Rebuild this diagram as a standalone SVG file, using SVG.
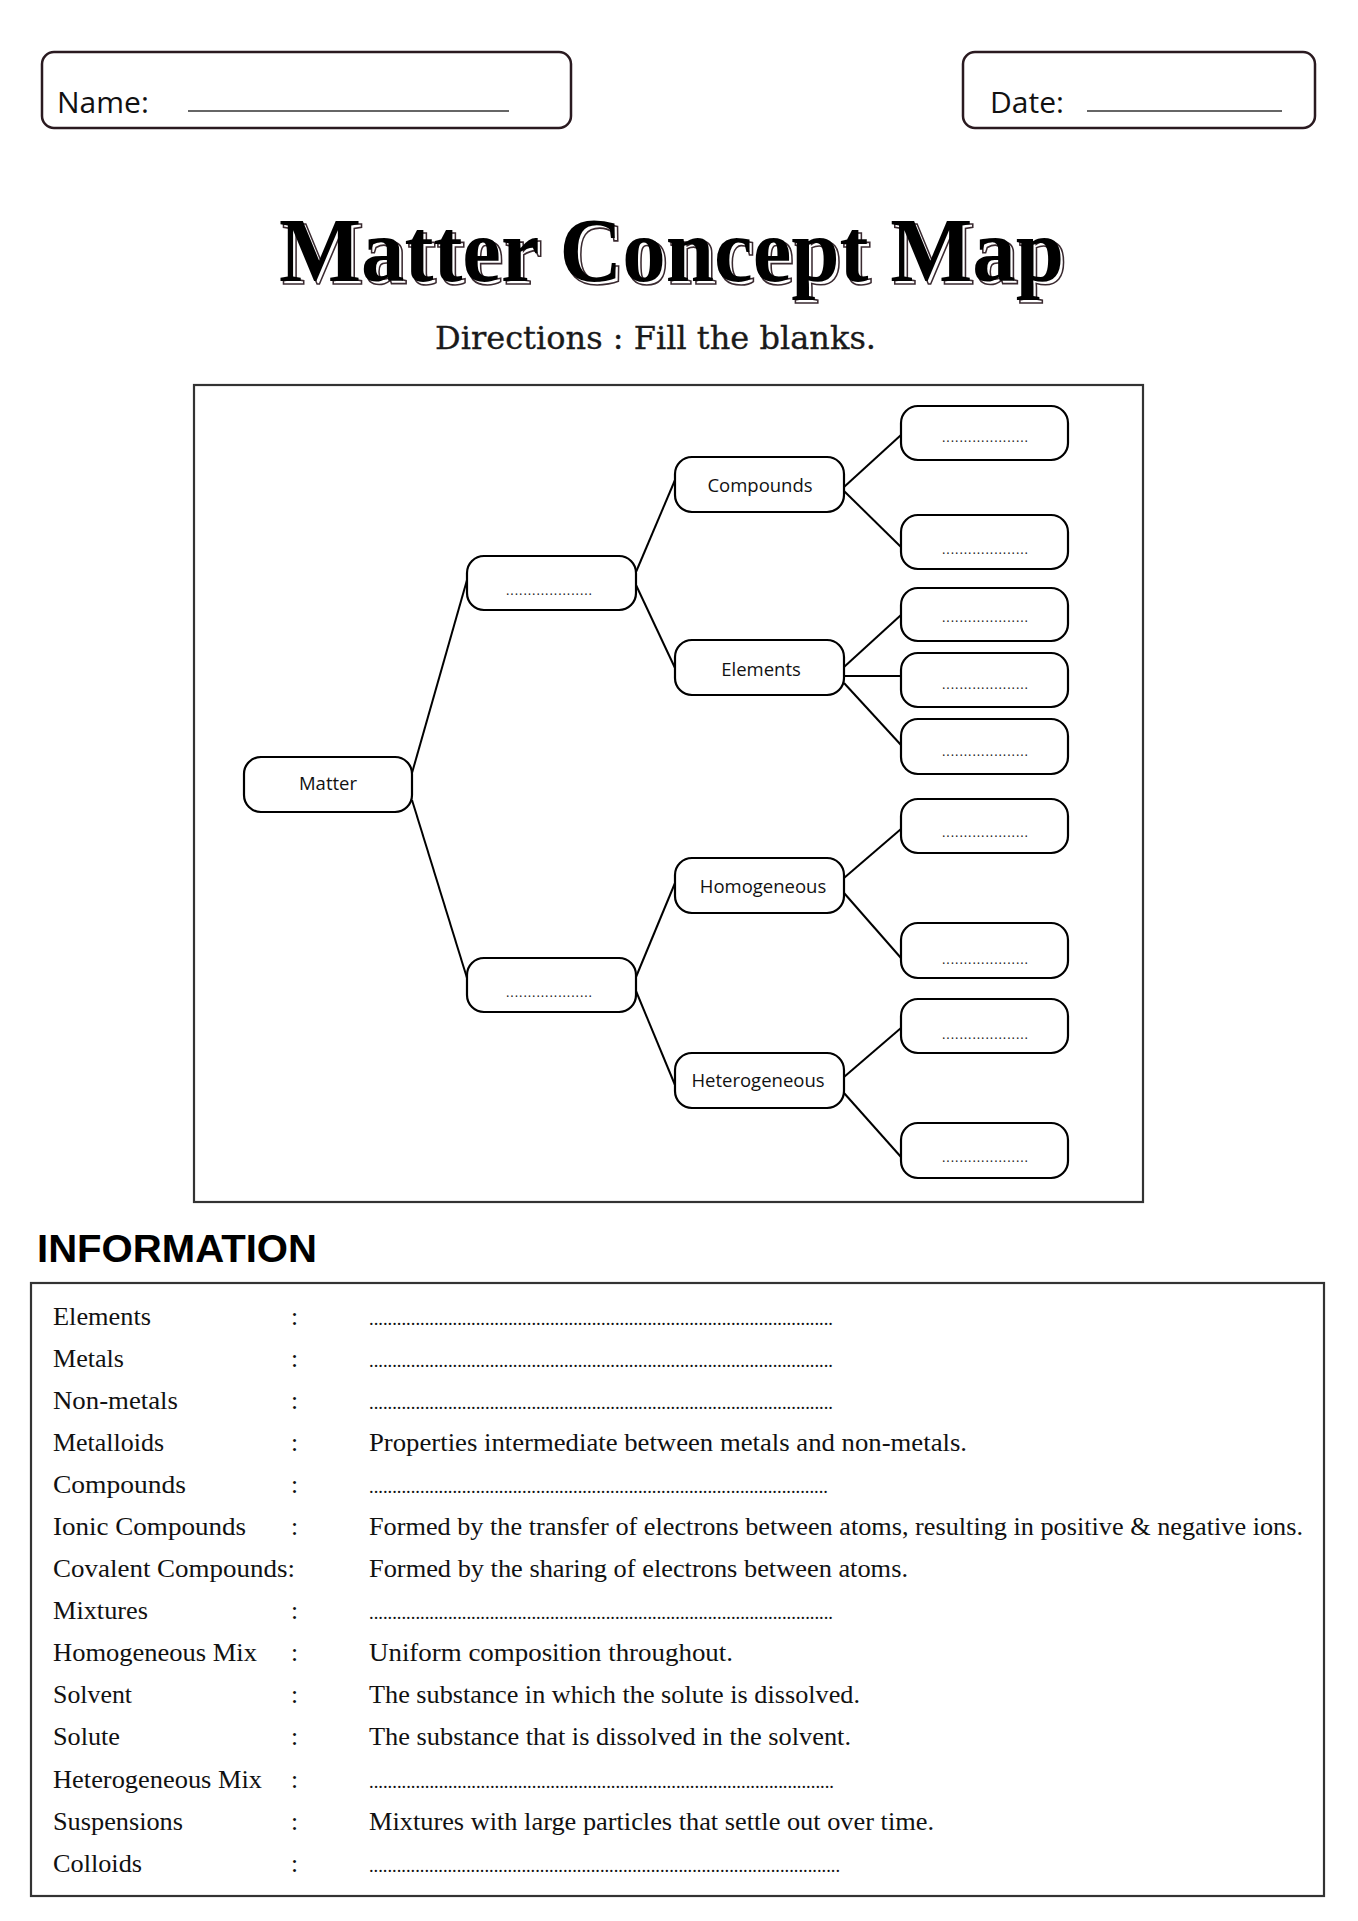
<svg xmlns="http://www.w3.org/2000/svg" width="1358" height="1921" viewBox="0 0 1358 1921">
<style>
.hdr{fill:#fff;stroke:#2a1a20;stroke-width:2.5}
.hdrt{font-family:"Open Sans",sans-serif;font-size:30px;fill:#111}
.uline{stroke:#333;stroke-width:1.6}
.node rect{fill:#fff;stroke:#000;stroke-width:2.2}
.lbl{font-family:"Open Sans",sans-serif;font-size:18.5px;fill:#111;text-anchor:middle}
.dots{font-family:"Open Sans",sans-serif;font-size:13px;fill:#222;text-anchor:middle}
.conn line{stroke:#000;stroke-width:2}
.info{font-family:"Liberation Serif","Times New Roman",serif;font-size:25.5px;fill:#111}
.idots{font-family:"Liberation Serif",serif;font-size:19px;fill:#111}
</style>

<g id="name-box">
<rect class="hdr" x="42" y="52" width="529" height="76" rx="12"/>
<text class="hdrt" x="57" y="113">Name:</text>
<line class="uline" x1="188" y1="111" x2="509" y2="111"/>
</g>
<g id="date-box">
<rect class="hdr" x="963" y="52" width="352" height="76" rx="12"/>
<text class="hdrt" x="990" y="113">Date:</text>
<line class="uline" x1="1087" y1="111" x2="1282" y2="111" stroke="#2d3d45"/>
</g>

<g id="title">
<text x="282" y="284" font-family="Liberation Serif,serif" font-weight="bold" font-size="91" textLength="785" lengthAdjust="spacingAndGlyphs" fill="#fff" stroke="#3a2a30" stroke-width="1.6">Matter Concept Map</text>
<text x="279" y="281" font-family="Liberation Serif,serif" font-weight="bold" font-size="91" textLength="785" lengthAdjust="spacingAndGlyphs" fill="#000">Matter Concept Map</text>
<text x="435" y="349" font-family="DejaVu Serif,serif" font-size="31" textLength="441" lengthAdjust="spacingAndGlyphs" fill="#1a1a1a" stroke="#1a1a1a" stroke-width="0.3">Directions : Fill the blanks.</text>
</g>

<rect id="frame" x="194" y="385" width="949" height="817" fill="none" stroke="#333" stroke-width="2.2"/>

<g id="connectors" class="conn">
<line x1="412" y1="773" x2="467" y2="580"/>
<line x1="412" y1="800" x2="467" y2="978"/>
<line x1="636" y1="572" x2="675" y2="480"/>
<line x1="636" y1="585" x2="675" y2="668"/>
<line x1="636" y1="977" x2="675" y2="883"/>
<line x1="636" y1="991" x2="675" y2="1085"/>
<line x1="844" y1="487" x2="901" y2="435"/>
<line x1="844" y1="491" x2="901" y2="547"/>
<line x1="844" y1="667" x2="901" y2="615"/>
<line x1="844" y1="676" x2="901" y2="676"/>
<line x1="844" y1="683" x2="901" y2="745"/>
<line x1="844" y1="878" x2="901" y2="829"/>
<line x1="844" y1="893" x2="901" y2="958"/>
<line x1="844" y1="1077" x2="901" y2="1028"/>
<line x1="844" y1="1093" x2="901" y2="1157"/>
</g>

<g id="n-matter" class="node"><rect x="244" y="757" width="168" height="55" rx="17"/><text class="lbl" x="328" y="790">Matter</text></g>
<g id="n-blank1" class="node"><rect x="467" y="556" width="169" height="54" rx="17"/><text class="dots" x="549" y="595" textLength="86">....................</text></g>
<g id="n-blank2" class="node"><rect x="467" y="958" width="169" height="54" rx="17"/><text class="dots" x="549" y="997" textLength="86">....................</text></g>
<g id="n-compounds" class="node"><rect x="675" y="457" width="169" height="55" rx="17"/><text class="lbl" x="760" y="492">Compounds</text></g>
<g id="n-elements" class="node"><rect x="675" y="640" width="169" height="55" rx="17"/><text class="lbl" x="761" y="676">Elements</text></g>
<g id="n-homogeneous" class="node"><rect x="675" y="858" width="169" height="55" rx="17"/><text class="lbl" x="763" y="893">Homogeneous</text></g>
<g id="n-heterogeneous" class="node"><rect x="675" y="1053" width="169" height="55" rx="17"/><text class="lbl" x="758" y="1087">Heterogeneous</text></g>

<g id="n-r1" class="node"><rect x="901" y="406" width="167" height="54" rx="17"/><text class="dots" x="985" y="442" textLength="86">....................</text></g>
<g id="n-r2" class="node"><rect x="901" y="515" width="167" height="54" rx="17"/><text class="dots" x="985" y="554" textLength="86">....................</text></g>
<g id="n-r3" class="node"><rect x="901" y="588" width="167" height="53" rx="17"/><text class="dots" x="985" y="622" textLength="86">....................</text></g>
<g id="n-r4" class="node"><rect x="901" y="653" width="167" height="54" rx="17"/><text class="dots" x="985" y="689" textLength="86">....................</text></g>
<g id="n-r5" class="node"><rect x="901" y="719" width="167" height="55" rx="17"/><text class="dots" x="985" y="756" textLength="86">....................</text></g>
<g id="n-r6" class="node"><rect x="901" y="799" width="167" height="54" rx="17"/><text class="dots" x="985" y="837" textLength="86">....................</text></g>
<g id="n-r7" class="node"><rect x="901" y="923" width="167" height="55" rx="17"/><text class="dots" x="985" y="964" textLength="86">....................</text></g>
<g id="n-r8" class="node"><rect x="901" y="999" width="167" height="54" rx="17"/><text class="dots" x="985" y="1039" textLength="86">....................</text></g>
<g id="n-r9" class="node"><rect x="901" y="1123" width="167" height="55" rx="17"/><text class="dots" x="985" y="1162" textLength="86">....................</text></g>

<g id="information">
<text x="37" y="1262" font-family="Liberation Sans,Arial,sans-serif" font-weight="bold" font-size="39" textLength="280" lengthAdjust="spacingAndGlyphs" fill="#000">INFORMATION</text>
<rect x="31" y="1283" width="1293" height="613" fill="none" stroke="#333" stroke-width="2.2"/>
<g class="info">
<text x="53" y="1325" textLength="98" lengthAdjust="spacingAndGlyphs">Elements</text>
<text x="53" y="1367" textLength="71" lengthAdjust="spacingAndGlyphs">Metals</text>
<text x="53" y="1409" textLength="125" lengthAdjust="spacingAndGlyphs">Non-metals</text>
<text x="53" y="1451" textLength="111" lengthAdjust="spacingAndGlyphs">Metalloids</text>
<text x="53" y="1493" textLength="133" lengthAdjust="spacingAndGlyphs">Compounds</text>
<text x="53" y="1535" textLength="193" lengthAdjust="spacingAndGlyphs">Ionic Compounds</text>
<text x="53" y="1577" textLength="242" lengthAdjust="spacingAndGlyphs">Covalent Compounds:</text>
<text x="53" y="1619" textLength="95" lengthAdjust="spacingAndGlyphs">Mixtures</text>
<text x="53" y="1661" textLength="204" lengthAdjust="spacingAndGlyphs">Homogeneous Mix</text>
<text x="53" y="1703" textLength="79" lengthAdjust="spacingAndGlyphs">Solvent</text>
<text x="53" y="1745" textLength="67" lengthAdjust="spacingAndGlyphs">Solute</text>
<text x="53" y="1788" textLength="209" lengthAdjust="spacingAndGlyphs">Heterogeneous Mix</text>
<text x="53" y="1830" textLength="130" lengthAdjust="spacingAndGlyphs">Suspensions</text>
<text x="53" y="1872" textLength="89" lengthAdjust="spacingAndGlyphs">Colloids</text>

<text x="291" y="1325">:</text>
<text x="291" y="1367">:</text>
<text x="291" y="1409">:</text>
<text x="291" y="1451">:</text>
<text x="291" y="1493">:</text>
<text x="291" y="1535">:</text>
<text x="291" y="1619">:</text>
<text x="291" y="1661">:</text>
<text x="291" y="1703">:</text>
<text x="291" y="1745">:</text>
<text x="291" y="1788">:</text>
<text x="291" y="1830">:</text>
<text x="291" y="1872">:</text>

<text x="369" y="1451" textLength="598" lengthAdjust="spacingAndGlyphs">Properties intermediate between metals and non-metals.</text>
<text x="369" y="1535" textLength="934" lengthAdjust="spacingAndGlyphs">Formed by the transfer of electrons between atoms, resulting in positive &amp; negative ions.</text>
<text x="369" y="1577" textLength="539" lengthAdjust="spacingAndGlyphs">Formed by the sharing of electrons between atoms.</text>
<text x="369" y="1661" textLength="364" lengthAdjust="spacingAndGlyphs">Uniform composition throughout.</text>
<text x="369" y="1703" textLength="491" lengthAdjust="spacingAndGlyphs">The substance in which the solute is dissolved.</text>
<text x="369" y="1745" textLength="482" lengthAdjust="spacingAndGlyphs">The substance that is dissolved in the solvent.</text>
<text x="369" y="1830" textLength="565" lengthAdjust="spacingAndGlyphs">Mixtures with large particles that settle out over time.</text>
</g>
<g class="idots">
<text x="369" y="1325" textLength="464" lengthAdjust="spacingAndGlyphs">....................................................................................................</text>
<text x="369" y="1367" textLength="464" lengthAdjust="spacingAndGlyphs">....................................................................................................</text>
<text x="369" y="1409" textLength="464" lengthAdjust="spacingAndGlyphs">....................................................................................................</text>
<text x="369" y="1493" textLength="459" lengthAdjust="spacingAndGlyphs">...................................................................................................</text>
<text x="369" y="1619" textLength="464" lengthAdjust="spacingAndGlyphs">....................................................................................................</text>
<text x="369" y="1788" textLength="465" lengthAdjust="spacingAndGlyphs">....................................................................................................</text>
<text x="369" y="1872" textLength="471" lengthAdjust="spacingAndGlyphs">......................................................................................................</text>
</g>
</g>
</svg>
